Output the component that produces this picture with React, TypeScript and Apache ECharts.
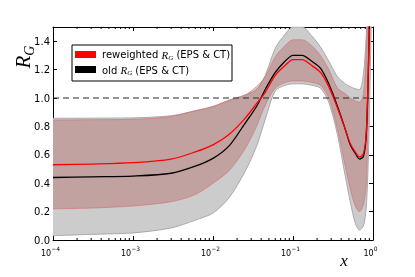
import React, { useEffect, useRef } from "react";
import * as echarts from "echarts";

const xs = [1e-4, 3e-4, 1e-3, 3e-3, 6e-3, 1e-2, 1.6e-2, 2.5e-2, 3.5e-2, 4.5e-2, 6e-2, 8e-2, 0.1, 0.13, 0.17, 0.22, 0.28, 0.36, 0.45, 0.52, 0.6, 0.68, 0.76, 0.82, 0.86, 0.9, 0.94, 0.97];
const blackLine = [0.44, 0.445, 0.45, 0.47, 0.52, 0.575, 0.665, 0.82, 0.94, 1.06, 1.18, 1.26, 1.3, 1.3, 1.26, 1.21, 1.1, 0.94, 0.78, 0.67, 0.61, 0.57, 0.59, 0.72, 1.02, 1.5, 2.0, 2.4];
const redLine = [0.53, 0.535, 0.545, 0.57, 0.62, 0.67, 0.745, 0.855, 0.96, 1.04, 1.16, 1.23, 1.27, 1.27, 1.23, 1.18, 1.08, 0.93, 0.78, 0.68, 0.62, 0.585, 0.61, 0.74, 1.05, 1.52, 2.0, 2.4];
const redUpper = [0.845, 0.847, 0.85, 0.87, 0.91, 0.94, 0.985, 1.02, 1.08, 1.15, 1.29, 1.37, 1.41, 1.41, 1.37, 1.3, 1.2, 1.07, 1.03, 1.0, 0.98, 0.97, 1.03, 1.3, 1.6, 2.0, 2.3, 2.5];
const redLower = [0.22, 0.225, 0.24, 0.27, 0.32, 0.4, 0.49, 0.64, 0.8, 0.95, 1.07, 1.11, 1.12, 1.12, 1.11, 1.09, 1.0, 0.78, 0.52, 0.36, 0.24, 0.2, 0.25, 0.38, 0.75, 1.3, 1.7, 2.1];
const grayUpper = [0.857, 0.858, 0.86, 0.875, 0.91, 0.94, 0.985, 1.02, 1.06, 1.16, 1.35, 1.45, 1.5, 1.5, 1.44, 1.36, 1.26, 1.15, 1.1, 1.08, 1.065, 1.06, 1.17, 1.42, 1.7, 2.0, 2.3, 2.6];
const grayLower = [0.03, 0.04, 0.05, 0.085, 0.14, 0.19, 0.3, 0.48, 0.66, 0.85, 1.05, 1.09, 1.1, 1.1, 1.09, 1.07, 0.97, 0.74, 0.45, 0.27, 0.12, 0.07, 0.1, 0.22, 0.45, 0.85, 1.4, 1.8];
const refLevel = 1.0;
const xMin = 1e-4;
const xMax = 1;
const yMin = 0;
const yMax = 1.5;
const yStep = 0.2;
const minorTickXs: number[] = [];
for (let e = -4; e < 0; e++) {
  for (let m = 2; m <= 9; m++) minorTickXs.push(Number((m * Math.pow(10, e)).toPrecision(3)));
}

const pairs = (vals: number[]) => xs.map((x, i) => [x, vals[i]]);
// band rows are [y, x] so that the stack is applied to the y values
const bandLow = (lo: number[]) => xs.map((x, i) => [lo[i], x]);
const bandDiff = (hi: number[], lo: number[]) => xs.map((x, i) => [+(hi[i] - lo[i]).toFixed(4), x]);

export default function App() {
  const ref = useRef<HTMLDivElement>(null);
  useEffect(() => {
    if (!ref.current) return;
    const chart = echarts.init(ref.current, null, { renderer: "svg" });
    const sansFont = "DejaVu Sans";
    const serif = "Liberation Serif";
    const expLabel = (v: number) => {
      const e = Math.round(Math.log10(v));
      return "{b|10}{s|" + (e < 0 ? "\u2212" + -e : String(e)) + "}";
    };
    const grayEdge = "#a9a9a9";
    const redEdge = "rgba(210,120,120,0.9)";
    const baseLine = { symbol: "none", smooth: 0.3 } as any;
    const bandEncode = { x: 1, y: 0 };
    const axisLine = { show: true, onZero: false, lineStyle: { color: "#000", width: 1 } };
    const axisTick = { show: true, inside: true, length: 4, lineStyle: { color: "#000" } };
    const legendRich = {
      a: { fontFamily: sansFont, fontSize: 10, fill: "#000", lineHeight: 13, verticalAlign: "middle" },
      i: { fontFamily: serif, fontStyle: "italic", fontSize: 11, fill: "#000", lineHeight: 13, verticalAlign: "middle" },
      g: { fontFamily: serif, fontStyle: "italic", fontSize: 7, fill: "#000", lineHeight: 13, verticalAlign: "bottom" },
    };
    chart.setOption({
      animation: false,
      grid: { left: 53, top: 27, right: 42, bottom: 37 },
      xAxis: [
        {
          type: "log",
          min: xMin,
          max: xMax,
          logBase: 10,
          axisLine,
          axisTick,
          splitLine: { show: false },
          axisLabel: {
            margin: 5,
            formatter: expLabel,
            rich: {
              b: { fontFamily: sansFont, fontSize: 8, color: "#000", lineHeight: 12, verticalAlign: "bottom" },
              s: { fontFamily: sansFont, fontSize: 6, color: "#000", lineHeight: 12, verticalAlign: "top", padding: [0, 5, 0, 0] },
            },
          },
        },
        {
          type: "log",
          position: "top",
          min: xMin,
          max: xMax,
          logBase: 10,
          axisLine,
          axisTick,
          axisLabel: { show: false },
          splitLine: { show: false },
        },
      ],
      yAxis: [
        {
          type: "value",
          min: yMin,
          max: yMax,
          interval: yStep,
          axisLine,
          axisTick,
          splitLine: { show: false },
          axisLabel: {
            margin: 3,
            showMaxLabel: false,
            fontFamily: sansFont,
            fontSize: 10,
            color: "#000",
            formatter: (v: number) => v.toFixed(1),
          },
        },
        {
          type: "value",
          position: "right",
          min: yMin,
          max: yMax,
          interval: yStep,
          axisLine,
          axisTick,
          splitLine: { show: false },
          axisLabel: { show: false },
        },
      ],
      series: [
        {
          ...baseLine,
          type: "line",
          name: "old lower",
          stack: "gray",
          encode: bandEncode,
          data: bandLow(grayLower),
          lineStyle: { color: grayEdge, width: 1 },
          z: 1,
        },
        {
          ...baseLine,
          type: "line",
          name: "old band",
          stack: "gray",
          encode: bandEncode,
          data: bandDiff(grayUpper, grayLower),
          lineStyle: { color: grayEdge, width: 1 },
          areaStyle: { color: "#cccccc", opacity: 1 },
          z: 1,
        },
        {
          ...baseLine,
          type: "line",
          name: "reweighted lower",
          stack: "red",
          encode: bandEncode,
          data: bandLow(redLower),
          lineStyle: { color: redEdge, width: 0.8 },
          z: 2,
        },
        {
          ...baseLine,
          type: "line",
          name: "reweighted band",
          stack: "red",
          encode: bandEncode,
          data: bandDiff(redUpper, redLower),
          lineStyle: { color: redEdge, width: 0.8 },
          areaStyle: { color: "rgba(170,50,50,0.28)", opacity: 1 },
          z: 2,
        },
        {
          type: "line",
          name: "reference",
          symbol: "none",
          data: [
            [xMin, refLevel],
            [xMax, refLevel],
          ],
          lineStyle: { color: "#2a2a2a", width: 1.2, type: [6, 4] },
          z: 3,
        },
        {
          ...baseLine,
          type: "line",
          name: "old R_G (EPS & CT)",
          data: pairs(blackLine),
          lineStyle: { color: "#000", width: 1.3 },
          z: 4,
        },
        {
          ...baseLine,
          type: "line",
          name: "reweighted R_G (EPS & CT)",
          data: pairs(redLine),
          lineStyle: { color: "#ff0000", width: 1.3 },
          z: 5,
        },
        {
          type: "custom",
          name: "minor ticks",
          clip: false,
          silent: true,
          data: minorTickXs.map((x) => [x, yMin]),
          encode: { x: 0, y: 1 },
          renderItem: (params: any, api: any) => {
            const x = api.value(0);
            const pb = api.coord([x, yMin]);
            const pt = api.coord([x, yMax]);
            const style = { stroke: "#000", lineWidth: 1 };
            return {
              type: "group",
              children: [
                { type: "line", shape: { x1: pb[0], y1: pb[1], x2: pb[0], y2: pb[1] - 2 }, style },
                { type: "line", shape: { x1: pt[0], y1: pt[1], x2: pt[0], y2: pt[1] + 2 }, style },
              ],
            };
          },
          z: 6,
        },
      ],
      graphic: [
        {
          type: "group",
          z: 100,
          children: [
            { type: "rect", shape: { x: 72, y: 45, width: 160, height: 36 }, style: { fill: "#fff", stroke: "#000", lineWidth: 1 } },
            { type: "rect", shape: { x: 75, y: 51, width: 21, height: 7 }, style: { fill: "#ff0000" } },
            { type: "rect", shape: { x: 75, y: 66, width: 21, height: 7 }, style: { fill: "#000" } },
            {
              type: "text",
              x: 102,
              y: 54.5,
              style: { text: "{a|reweighted }{i|R}{g|G}{a| (EPS & CT)}", verticalAlign: "middle", align: "left", rich: legendRich },
            },
            {
              type: "text",
              x: 102,
              y: 70,
              style: { text: "{a|old }{i|R}{g|G}{a| (EPS & CT)}", verticalAlign: "middle", align: "left", rich: legendRich },
            },
          ],
        },
        {
          type: "text",
          x: 23,
          y: 57,
          rotation: Math.PI / 2,
          z: 100,
          style: {
            text: "{i|R}{g|G}",
            align: "center",
            verticalAlign: "middle",
            rich: {
              i: { fontFamily: serif, fontStyle: "italic", fontSize: 21, fill: "#000", lineHeight: 26, verticalAlign: "middle" },
              g: { fontFamily: serif, fontStyle: "italic", fontSize: 14, fill: "#000", lineHeight: 26, verticalAlign: "bottom" },
            },
          },
        },
        {
          type: "text",
          x: 344,
          y: 260,
          z: 100,
          style: {
            text: "x",
            fontFamily: serif,
            fontStyle: "italic",
            fontSize: 17,
            fill: "#000",
            align: "center",
            verticalAlign: "middle",
          },
        },
      ],
    });
    return () => chart.dispose();
  }, []);
  return <div ref={ref} style={{ position: "fixed", left: 0, top: 0, width: 415, height: 277 }} />;
}
